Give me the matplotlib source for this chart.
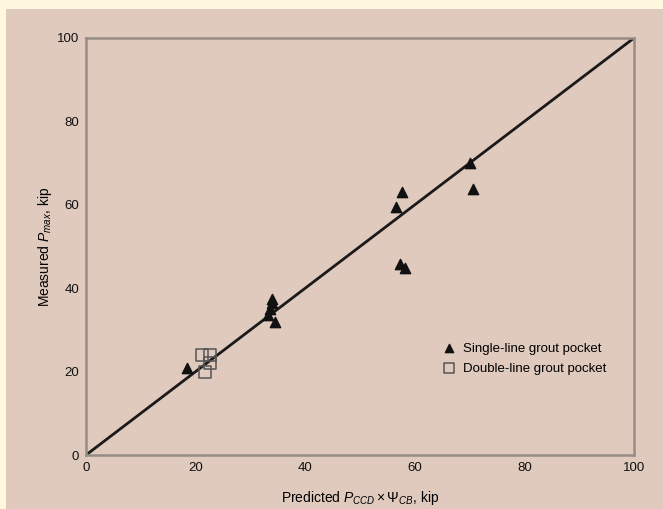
import matplotlib
matplotlib.use("Agg")
import matplotlib.pyplot as plt
from matplotlib.patches import Rectangle

plt.rcParams['font.family'] = ['Liberation Sans', 'DejaVu Sans']
plt.rcParams['mathtext.fontset'] = 'custom'
plt.rcParams['mathtext.rm'] = 'Liberation Sans'
plt.rcParams['mathtext.it'] = 'Liberation Sans:italic'

# single-line grout pocket (predicted, measured)
single_x = [18.5, 33.2, 33.6, 34.0, 33.9, 34.4, 56.6, 57.6, 57.3, 58.3, 70.1, 70.6]
single_y = [20.8, 33.5, 35.0, 36.4, 37.3, 32.0, 59.5, 63.1, 45.8, 44.8, 70.0, 63.8]
# double-line grout pocket
double_x = [21.1, 22.7, 22.7, 21.7]
double_y = [24.0, 24.0, 22.0, 19.9]
line_x = [0, 100]
line_y = [0, 100]
ticks = [0, 20, 40, 60, 80, 100]

panel = '#dfcabd'
fig = plt.figure(figsize=(6.63, 5.09), dpi=100, facecolor='#fff8df')
fig.patches.append(Rectangle((6/663, 0), 1, 1 - 9/509, transform=fig.transFigure,
                             facecolor=panel, edgecolor='none', zorder=-1))

ax = fig.add_axes([86/663, 54/509, 548/663, 417/509])
ax.set_facecolor(panel)
ax.plot(line_x, line_y, color='#1a1a1a', lw=2, zorder=2)
ax.scatter(single_x, single_y, marker='^', s=55, color='#111111', zorder=3,
           label='Single-line grout pocket')
ax.scatter(double_x, double_y, marker='s', s=75, facecolor='none', edgecolor='#555555',
           linewidth=1.1, zorder=3, label='Double-line grout pocket')

ax.set_xlim(0, 100)
ax.set_ylim(0, 100)
ax.set_xticks(ticks)
ax.set_yticks(ticks)
ax.tick_params(length=0, labelsize=9.5, pad=5, colors='#111111')
for s in ax.spines.values():
    s.set_color('#978c85')
    s.set_linewidth(1.8)

ax.set_xlabel(r'Predicted $P_{CCD}\times\Psi_{CB}$, kip', fontsize=10, labelpad=11)
ax.set_ylabel(r'Measured $P_{max}$, kip', fontsize=10, labelpad=2)

ax.legend(loc='lower right', bbox_to_anchor=(0.96, 0.18), frameon=False, fontsize=9.5,
          handletextpad=0.1, labelspacing=0.6, markerscale=0.8, borderaxespad=0)

fig.savefig('out.png', dpi=100, facecolor=fig.get_facecolor())
